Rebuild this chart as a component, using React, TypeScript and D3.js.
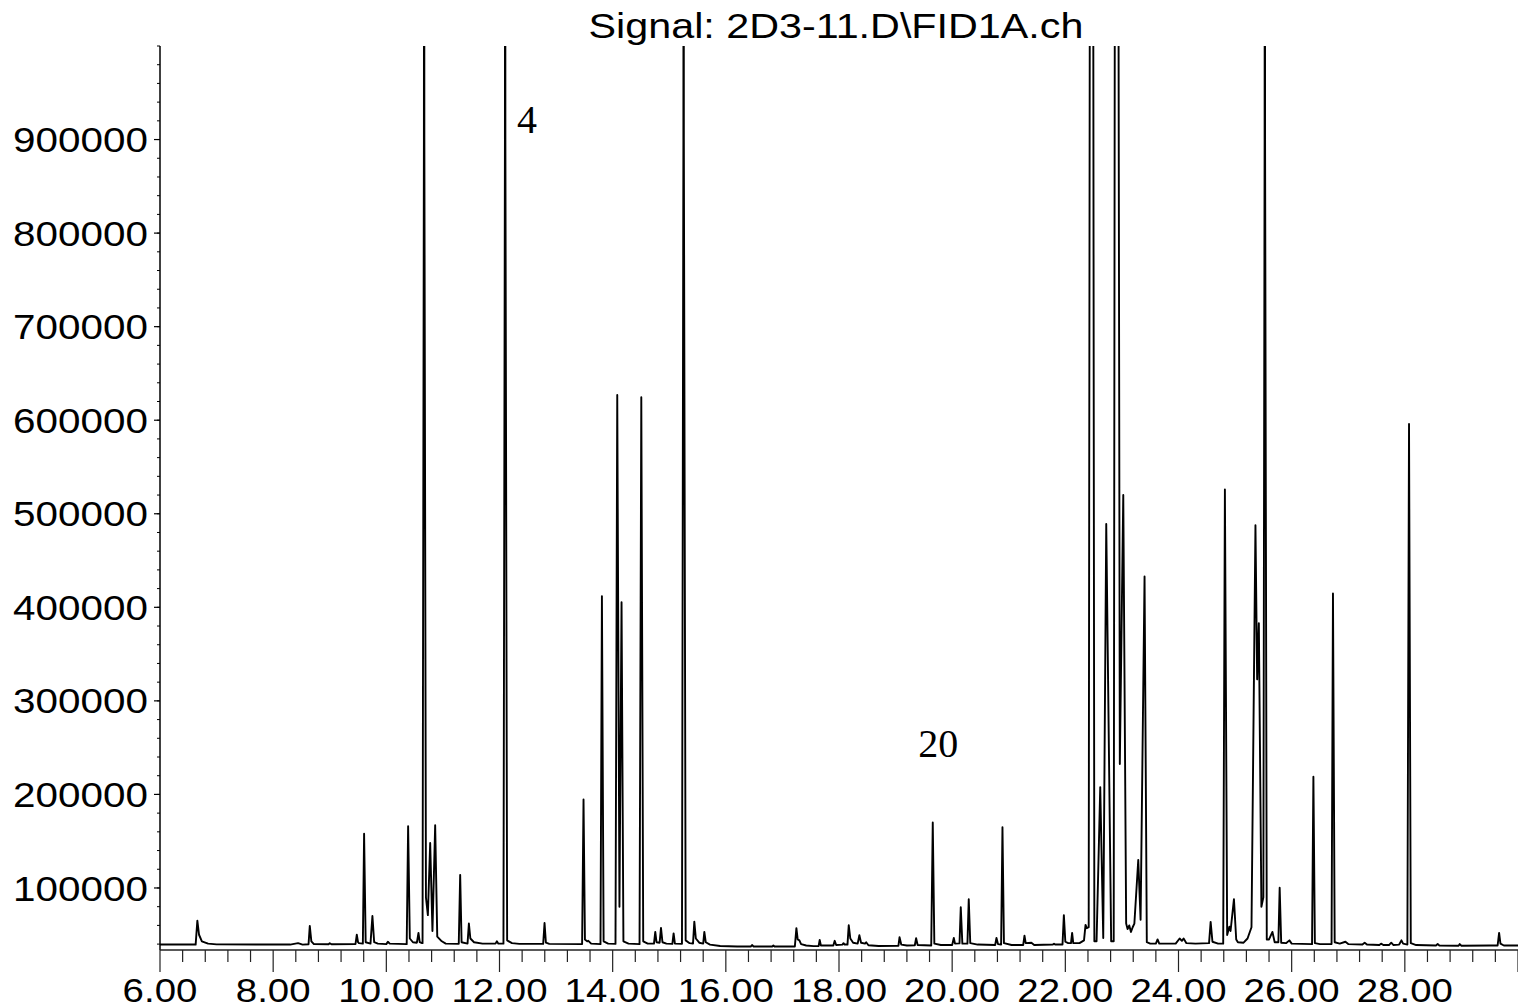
import React from 'react';
import * as d3 from 'd3';

const W = 1518;
const H = 1008;

const titleText = 'Signal: 2D3-11.D\\FID1A.ch';
const annotations: { label: string; t: number; v: number }[] = [
  { label: '4', t: 12.31, v: 907000 },
  { label: '20', t: 19.4, v: 240000 },
];

const xLabelTimes = [6, 8, 10, 12, 14, 16, 18, 20, 22, 24, 26, 28];
const yLabelValues = [100000, 200000, 300000, 400000, 500000, 600000, 700000, 800000, 900000];

// FID trace, [retention time (min), signal]
const segment1: [number, number][] = [
  [6.0, 39500], [6.63, 39500], [6.66, 65000], [6.69, 50000], [6.74, 43000], [6.85, 40500], [7.0, 39700],
  [8.3, 39500], [8.44, 41000], [8.52, 39500], [8.625, 39800], [8.647, 59400], [8.675, 43000], [8.72, 40000],
  [8.98, 39800], [9.0, 41000], [9.03, 39800], [9.455, 40000], [9.478, 50000], [9.5, 42000], [9.515, 41000],
  [9.585, 40500], [9.607, 158000], [9.635, 42000], [9.72, 40500], [9.754, 70000], [9.785, 42000], [9.85, 40500],
  [10.0, 40000], [10.027, 42500], [10.06, 40500], [10.36, 40000], [10.385, 166000], [10.415, 46000],
  [10.47, 42000], [10.54, 41500], [10.568, 52000], [10.59, 42000], [10.63, 41000],
];

const segment2: [number, number][] = [
  [10.64, 41000], [10.664, 900000], [10.668, 1500000], [10.672, 900000], [10.7, 90000], [10.734, 71000],
  [10.775, 148000], [10.815, 54000], [10.863, 167000], [10.9, 48000], [10.98, 43000], [11.05, 40500],
  [11.28, 40300], [11.305, 114000], [11.33, 42000], [11.435, 40500], [11.459, 62000], [11.485, 46000],
  [11.55, 42000], [11.7, 40500], [11.93, 40500], [11.954, 43000], [11.98, 40500],
  [12.07, 40500], [12.096, 900000], [12.1, 1500000], [12.104, 900000], [12.135, 44000], [12.22, 41000],
  [12.35, 40300],
  [12.772, 40200], [12.796, 62600], [12.82, 41500], [12.88, 40200],
  [13.46, 40000], [13.485, 194500], [13.51, 45000], [13.55, 43000], [13.57, 43500], [13.62, 40500],
  [13.785, 40000], [13.81, 412000], [13.84, 43000], [13.92, 40500], [14.05, 40200], [14.081, 627000],
  [14.12, 80000], [14.157, 405500], [14.19, 43000], [14.28, 40500],
  [14.475, 40000], [14.506, 624500], [14.54, 43000], [14.62, 40500], [14.73, 40500], [14.753, 53000],
  [14.775, 42000], [14.83, 41500], [14.854, 57300], [14.88, 42000], [14.95, 40500], [15.055, 40300],
  [15.077, 51500], [15.1, 40500],
  [15.225, 40300], [15.25, 900000], [15.254, 1500000], [15.258, 900000], [15.29, 44000], [15.36, 41000],
  [15.42, 40500], [15.443, 64000], [15.47, 46000], [15.53, 41500], [15.6, 40500], [15.62, 53000],
  [15.645, 42000], [15.72, 39500], [15.9, 38000],
];

const segment3: [number, number][] = [
  [16.2, 37400], [16.44, 37400], [16.463, 39000], [16.49, 37400], [16.82, 37400], [16.84, 38500], [16.86, 37400],
  [17.22, 37500], [17.247, 57000], [17.27, 45000], [17.3, 44000], [17.33, 40000], [17.42, 38500], [17.55, 37800],
  [17.64, 38000], [17.659, 44400], [17.68, 38500], [17.9, 38500], [17.924, 43500], [17.95, 39000],
  [18.06, 39500], [18.08, 41000], [18.1, 39500], [18.15, 39500], [18.172, 60200], [18.2, 46000],
  [18.25, 41500], [18.33, 40500], [18.36, 49500], [18.39, 41500], [18.46, 40500], [18.48, 42000],
  [18.52, 38800], [18.7, 38000], [19.05, 38200], [19.07, 47500], [19.1, 39500], [19.2, 38500],
  [19.34, 38800], [19.363, 46300], [19.39, 39000], [19.63, 38500], [19.657, 170000], [19.685, 40500],
  [19.8, 39000], [20.0, 39000], [20.029, 46500], [20.05, 40500], [20.13, 40800], [20.152, 79400],
  [20.18, 40500], [20.27, 40500], [20.293, 88000], [20.32, 41000], [20.45, 39500],
  [20.76, 39000], [20.783, 46500], [20.81, 40000], [20.865, 39500], [20.889, 165000], [20.915, 41000],
  [21.05, 39000], [21.255, 39000], [21.278, 49000], [21.3, 41000], [21.4, 41500], [21.45, 39000],
  [21.78, 39500], [21.8, 40500], [21.82, 39500], [21.95, 39500], [21.974, 71000], [22.0, 42500],
  [22.05, 41000], [22.1, 41000], [22.12, 52000], [22.14, 41000], [22.25, 41000], [22.33, 44000],
  [22.357, 60500], [22.38, 57000],
];

const segment4: [number, number][] = [
  [22.413, 58000], [22.441, 1500000], [22.485, 1500000], [22.513, 43000], [22.552, 43000],
  [22.617, 207800], [22.67, 46600], [22.723, 489000], [22.81, 43000],
  [22.855, 43000], [22.883, 1500000], [22.927, 1500000], [22.963, 232500], [23.024, 520000],
  [23.075, 62000], [23.1, 56000], [23.13, 60000], [23.16, 53000], [23.19, 58000], [23.22, 62000],
  [23.289, 130000], [23.33, 66000], [23.4, 433000], [23.44, 42000], [23.5, 40500], [23.6, 40500],
  [23.63, 45000], [23.66, 40500], [23.95, 40500], [24.02, 46000], [24.06, 43500], [24.09, 46000],
  [24.14, 41000], [24.3, 40500], [24.54, 41000], [24.568, 63700], [24.6, 42500], [24.7, 40500],
  [24.79, 40500], [24.82, 526000], [24.86, 49800], [24.9, 58700], [24.92, 54000], [24.98, 88000],
  [25.02, 45000], [25.05, 42000], [25.15, 41500], [25.22, 46000], [25.29, 58000], [25.36, 487700],
  [25.39, 323000], [25.42, 383000], [25.465, 80000], [25.5, 90000], [25.522, 900000], [25.526, 1500000],
  [25.53, 900000], [25.56, 45000], [25.6, 45000], [25.66, 53000], [25.7, 42000], [25.765, 42000],
  [25.788, 100300], [25.815, 41500], [25.9, 41000], [25.96, 44000], [26.0, 40500],
];

const segment5: [number, number][] = [
  [26.36, 40000], [26.384, 219000], [26.41, 41000], [26.5, 40000], [26.705, 40000], [26.73, 414800],
  [26.76, 42000], [26.85, 40500], [26.95, 42500], [27.0, 40000], [27.25, 39500], [27.29, 41500],
  [27.33, 39500], [27.55, 39000], [27.58, 40500], [27.62, 39000], [27.72, 39000], [27.76, 41500],
  [27.8, 39000], [27.9, 39500], [27.94, 44000], [27.97, 40500], [28.045, 39500], [28.074, 596000],
  [28.105, 41000], [28.2, 39000], [28.55, 38500], [28.58, 40000], [28.61, 38500], [28.95, 38300],
  [28.97, 40000], [29.0, 38300], [29.5, 38500], [29.64, 38500], [29.666, 52000], [29.69, 40500],
  [29.75, 38500], [30.0, 38500],
];

const FONT = "'Liberation Sans', Arial, Helvetica, sans-serif";
const SERIF = "'Liberation Serif', 'Times New Roman', Times, serif";

export default function App() {
  const x = d3.scaleLinear().domain([6, 30]).range([160, 1518]);
  const y = d3.scaleLinear().domain([33700, 1000000]).range([950, 46]);

  const trace = [...segment1, ...segment2, ...segment3, ...segment4, ...segment5];
  const linePath = d3
    .line<[number, number]>()
    .x((d) => x(d[0]))
    .y((d) => y(d[1]))(trace) || '';

  const xMinor = d3.range(0, 61).map((i) => 6 + i * 0.4);
  const yMinor = d3.range(40000, 1000001, 20000);

  const [x0, x1] = x.range();
  const [yb, yt] = y.range();

  return (
    <svg
      width={W}
      height={H}
      viewBox={`0 0 ${W} ${H}`}
      style={{ position: 'absolute', left: 0, top: 0, display: 'block', background: '#fff' }}
    >
      <defs>
        <clipPath id="plotClip">
          <rect x={x0} y={yt} width={x1 - x0} height={yb - yt} />
        </clipPath>
      </defs>
      <rect x={0} y={0} width={W} height={H} fill="#fff" />

      <text
        transform={`translate(836, 38) scale(1.18, 1)`}
        textAnchor="middle"
        fontFamily={FONT}
        fontSize={35}
        fill="#000"
      >
        {titleText}
      </text>

      <line x1={x0} x2={x0} y1={yt} y2={yb} stroke="#000" strokeWidth={1.5} />
      {yMinor.map((v) => (
        <line key={'ym' + v} x1={x0 - 3} x2={x0} y1={y(v)} y2={y(v)} stroke="#000" strokeWidth={1} />
      ))}
      {yLabelValues.map((v) => (
        <g key={'yl' + v}>
          <line x1={x0 - 6} x2={x0} y1={y(v)} y2={y(v)} stroke="#000" strokeWidth={1.2} />
          <text
            transform={`translate(148, ${y(v)}) scale(1.156, 1)`}
            textAnchor="end"
            dy="0.36em"
            fontFamily={FONT}
            fontSize={35}
            fill="#000"
          >
            {String(v)}
          </text>
        </g>
      ))}

      <line x1={x0} x2={x1} y1={yb} y2={yb} stroke="#222" strokeWidth={1.5} />
      {xMinor.map((t, i) => {
        const major = i % 5 === 0;
        return (
          <line
            key={'xm' + i}
            x1={x(t)}
            x2={x(t)}
            y1={yb}
            y2={yb + (major ? 22 : 12)}
            stroke="#222"
            strokeWidth={1.2}
          />
        );
      })}
      {xLabelTimes.map((t) => (
        <text
          key={'xl' + t}
          transform={`translate(${x(t)}, 1002) scale(1.13, 1)`}
          textAnchor="middle"
          fontFamily={FONT}
          fontSize={34}
          fill="#000"
        >
          {t.toFixed(2)}
        </text>
      ))}

      <g clipPath="url(#plotClip)">
        <path d={linePath} fill="none" stroke="#000" strokeWidth={1.9} strokeLinejoin="round" />
      </g>

      {annotations.map((a) => (
        <text key={a.label} x={x(a.t)} y={y(a.v)} fontFamily={SERIF} fontSize={40} fill="#000">
          {a.label}
        </text>
      ))}
    </svg>
  );
}
